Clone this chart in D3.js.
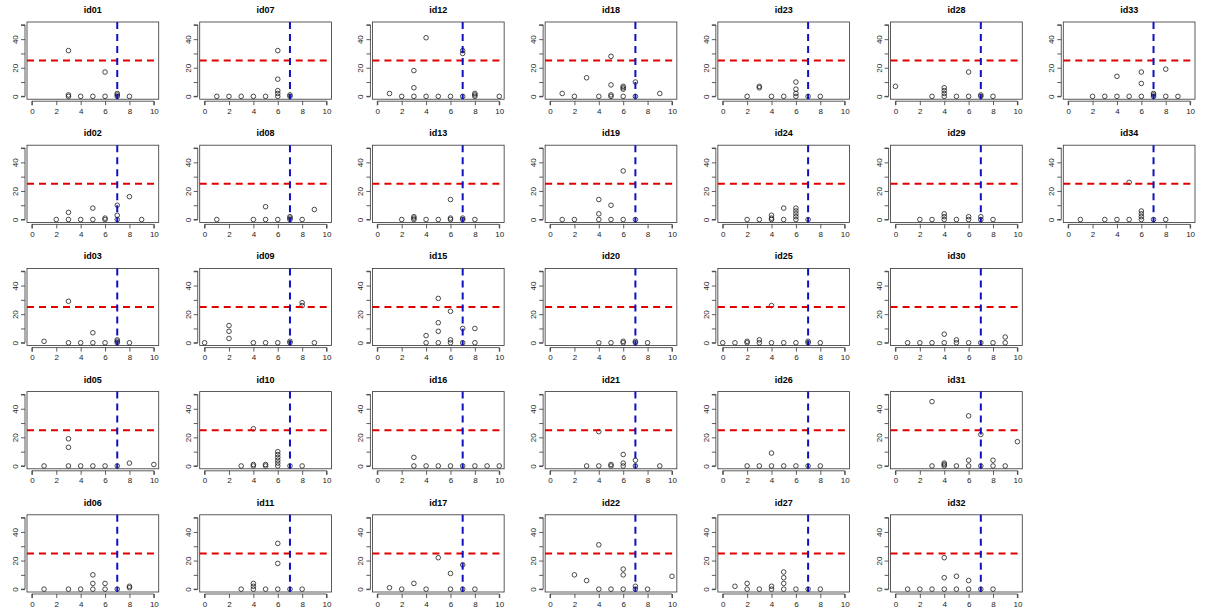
<!DOCTYPE html>
<html>
<head>
<meta charset="utf-8">
<script src="https://cdn.jsdelivr.net/npm/d3@7"></script>
<style>
  body { margin: 0; background: #fff; }
  svg { display: block; }
  text { font-family: "Liberation Sans", Arial, sans-serif; }
</style>
</head>
<body>
<div id="chart"></div>
<script>
// panel ids, filled column by column (5 rows x 7 columns)
var ids = ["id01", "id02", "id03", "id05", "id06",
           "id07", "id08", "id09", "id10", "id11",
           "id12", "id13", "id15", "id16", "id17",
           "id18", "id19", "id20", "id21", "id22",
           "id23", "id24", "id25", "id26", "id27",
           "id28", "id29", "id30", "id31", "id32",
           "id33", "id34"];

// points of each panel as [x, y]
var pts = [
    [[3,32],[6,17],[3,0],[3,1],[4,0],[5,0],[6,0],[7,0],[7,1],[7,2],[8,0]],
    [[8,16],[5,8],[7,10],[3,5],[2,0],[3,0],[4,0],[5,0],[6,0],[6,1],[7,0],[7,3],[9,0]],
    [[1,1],[3,29],[3,0],[4,0],[5,7],[5,0],[6,0],[7,0],[7,1],[7,2],[8,0]],
    [[3,19],[3,13],[1,0],[3,0],[4,0],[5,0],[6,0],[7,0],[8,2],[10,1]],
    [[1,0],[3,0],[4,0],[5,10],[5,4],[5,0],[6,4],[6,0],[7,0],[8,2],[8,1]],
    [[1,0],[2,0],[3,0],[4,0],[5,0],[6,0],[6,2],[6,4],[6,12],[6,32],[7,0],[7,1]],
    [[1,0],[4,0],[5,9],[5,0],[6,0],[7,0],[7,1],[7,2],[8,0],[9,7]],
    [[0,0],[2,3],[2,8],[2,12],[4,0],[5,0],[6,0],[7,0],[7,1],[8,28],[8,26],[9,0]],
    [[3,0],[4,0],[4,1],[4,26],[5,0],[5,1],[6,0],[6,2],[6,4],[6,6],[6,8],[6,10],[7,0],[8,0]],
    [[3,0],[4,0],[4,2],[4,4],[5,0],[6,0],[6,18],[6,32],[7,0],[8,0]],
    [[1,2],[2,0],[3,0],[3,6],[3,18],[4,0],[4,41],[5,0],[6,0],[7,0],[7,30],[7,32],[8,0],[8,1],[8,2],[10,0]],
    [[2,0],[3,0],[3,1],[3,2],[4,0],[5,0],[6,0],[6,1],[6,14],[7,0],[7,1],[8,0]],
    [[4,0],[4,5],[5,0],[5,8],[5,14],[5,31],[6,0],[6,2],[6,22],[7,0],[7,10],[8,0],[8,10]],
    [[3,0],[3,6],[4,0],[5,0],[6,0],[7,0],[8,0],[9,0],[10,0]],
    [[1,1],[2,0],[3,4],[4,0],[5,22],[6,0],[6,11],[7,0],[7,17],[8,0]],
    [[1,2],[2,0],[3,13],[4,0],[5,0],[5,1],[5,8],[5,28],[6,0],[6,5],[6,6],[6,7],[7,0],[7,10],[9,2]],
    [[1,0],[2,0],[4,0],[4,4],[4,14],[5,0],[5,10],[6,0],[6,34],[7,0]],
    [[4,0],[5,0],[6,0],[6,1],[7,0],[7,1],[8,0]],
    [[3,0],[4,0],[4,24],[5,0],[5,1],[6,0],[6,2],[6,8],[7,0],[7,4],[9,0]],
    [[2,10],[3,6],[4,0],[4,31],[5,0],[6,0],[6,10],[6,14],[7,0],[7,2],[8,0],[10,9]],
    [[2,0],[3,6],[3,7],[4,0],[5,0],[6,0],[6,2],[6,5],[6,10],[7,0],[8,0]],
    [[2,0],[3,0],[4,0],[4,1],[4,3],[5,0],[5,8],[6,0],[6,2],[6,4],[6,6],[6,8],[7,0]],
    [[0,0],[1,0],[2,0],[2,1],[3,0],[3,2],[4,0],[4,26],[5,0],[6,0],[7,0],[7,1],[8,0]],
    [[2,0],[3,0],[4,0],[4,9],[5,0],[6,0],[7,0],[8,0]],
    [[1,2],[2,0],[2,4],[3,0],[4,0],[4,2],[5,0],[5,4],[5,8],[5,12],[6,0],[7,0],[8,0]],
    [[0,7],[3,0],[4,0],[4,2],[4,4],[4,6],[5,0],[6,0],[6,17],[7,0],[7,1],[8,0]],
    [[2,0],[3,0],[4,0],[4,2],[4,4],[5,0],[6,0],[6,2],[7,0],[7,2],[8,0]],
    [[1,0],[2,0],[3,0],[4,6],[4,0],[5,0],[5,2],[6,0],[7,0],[8,0],[9,0],[9,4]],
    [[3,45],[3,0],[4,0],[4,1],[4,2],[5,0],[6,0],[6,35],[6,4],[7,0],[7,22],[8,0],[8,4],[9,0],[10,17]],
    [[1,0],[2,0],[3,0],[4,0],[4,22],[4,8],[5,0],[5,9],[6,0],[6,6],[7,0],[8,0]],
    [[2,0],[3,0],[4,0],[4,14],[5,0],[6,0],[6,9],[6,17],[7,0],[7,1],[7,2],[8,0],[8,19],[9,0]],
    [[1,0],[3,0],[4,0],[5,0],[5,26],[6,0],[6,2],[6,4],[6,6],[7,0],[8,0]]
];

var xLimits = [0, 10], yLimits = [0, 50];
var xTicks = [0, 2, 4, 6, 8, 10];
var yTicks = [0, 10, 20, 30, 40, 50];
var yLabels = [0, 20, 40];
var refY = 25, refX = 7;

var width = 1209, height = 616, nRow = 5, nCol = 7;
var cellW = width / nCol, cellH = height / nRow;
var margin = { top: 22, right: 14, bottom: 24, left: 27 };
var w = cellW - margin.left - margin.right,
    h = cellH - margin.top - margin.bottom;

var svg = d3.select("#chart").append("svg")
    .attr("width", width)
    .attr("height", height);

// 4% padding on the limits, like R
var xPad = (xLimits[1] - xLimits[0]) * 0.04,
    yPad = (yLimits[1] - yLimits[0]) * 0.04;
var x = d3.scaleLinear().domain([xLimits[0] - xPad, xLimits[1] + xPad]).range([0, w]);
var y = d3.scaleLinear().domain([yLimits[0] - yPad, yLimits[1] + yPad]).range([h, 0]);

ids.forEach(function (id, i) {
    var col = Math.floor(i / nRow), row = i % nRow;
    var g = svg.append("g")
        .attr("transform", "translate(" + (col * cellW + margin.left) + "," + (row * cellH + margin.top) + ")");

    // title
    g.append("text")
        .attr("x", w / 2)
        .attr("y", -9)
        .attr("text-anchor", "middle")
        .style("font-size", "9px")
        .style("font-weight", "bold")
        .text(id);

    // axes
    var xAxis = g.append("g")
        .attr("transform", "translate(0," + (h + 2) + ")")
        .call(d3.axisBottom(x).tickValues(xTicks).tickSize(4).tickPadding(3));
    var yAxis = g.append("g")
        .attr("transform", "translate(-2,0)")
        .call(d3.axisLeft(y).tickValues(yTicks).tickSize(4).tickPadding(3)
            .tickFormat(function (d) { return yLabels.indexOf(d) >= 0 ? d : ""; }));
    [xAxis, yAxis].forEach(function (a) {
        a.selectAll("path, line").attr("stroke", "#333").attr("stroke-width", 0.8);
        a.selectAll("text").style("font-size", "8px").attr("fill", "#222");
    });
    // trim axis lines to first/last tick like R
    xAxis.select(".domain").attr("d", "M" + x(xLimits[0]) + ",4V0H" + x(xLimits[1]) + "V4");
    yAxis.select(".domain").attr("d", "M-4," + y(yLimits[0]) + "H0V" + y(yLimits[1]) + "H-4");
    // y labels parallel to the axis
    yAxis.selectAll("text")
        .attr("x", -7)
        .attr("y", 0)
        .attr("dy", "0")
        .attr("text-anchor", "middle")
        .attr("transform", "rotate(-90,-7,0)");

    // plot box
    g.append("rect")
        .attr("width", w)
        .attr("height", h)
        .attr("fill", "none")
        .attr("stroke", "#333")
        .attr("stroke-width", 0.8);

    // points
    g.selectAll("circle")
        .data(pts[i])
        .enter()
        .append("circle")
        .attr("cx", function (d) { return x(d[0]); })
        .attr("cy", function (d) { return y(d[1]); })
        .attr("r", 2.3)
        .attr("fill", "none")
        .attr("stroke", "#111")
        .attr("stroke-width", 0.75);

    // reference lines
    g.append("line")
        .attr("x1", 0).attr("x2", w)
        .attr("y1", y(refY)).attr("y2", y(refY))
        .attr("stroke", "#e00000")
        .attr("stroke-width", 2)
        .attr("stroke-dasharray", "7,5");
    g.append("line")
        .attr("x1", x(refX)).attr("x2", x(refX))
        .attr("y1", 0).attr("y2", h)
        .attr("stroke", "#1010c0")
        .attr("stroke-width", 2)
        .attr("stroke-dasharray", "7,5");
});
</script>
</body>
</html>
